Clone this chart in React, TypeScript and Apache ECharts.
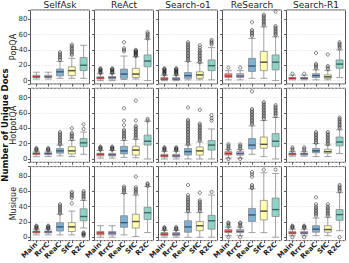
import React, { useEffect, useRef, useState } from "react";
import * as echarts from "echarts";

const categories = ["Main", "RrrC", "ReaC", "SfC", "R2C"];
const methods = ["SelfAsk", "ReAct", "Search-o1", "ReSearch", "Search-R1"];
const datasets = ["PopQA", "HotpotQA", "Musique"];
const boxColors = ["#fb8072", "#bebada", "#80b1d3", "#ffffb3", "#8dd3c7"];
const medianColors = ["#9e2f27", "#4d4870", "#1f4a72", "#3a3a2a", "#245e54"];
const yTicks = [0, 20, 40, 60, 80];

// [min, Q1, median, Q3, max] per category
const popqaSelfAskBox = [[2, 4, 5, 7, 11], [2, 4, 5, 7, 11], [3, 6, 11.5, 15, 25], [3, 6.5, 13, 18, 29], [3, 13, 20, 30, 46]];
const popqaSelfAskOut = [[], [], [27, 29, 31, 33, 35, 37], [33, 35, 37, 39, 41, 43, 45, 47], []];
const popqaReActBox = [[0, 2, 3.5, 5, 9], [0, 2, 4, 5.5, 9], [1.5, 3, 8.5, 15, 32], [2, 4, 8.5, 16, 31], [0, 18, 25.5, 33.5, 54]];
const popqaReActOut = [[10, 11, 12, 13, 14, 15, 16], [10, 11, 12, 13, 14, 15, 16], [38, 40, 42, 50], [32, 33, 34, 35, 36, 37, 38, 39, 40], [55, 57, 59, 61, 63]];
const popqaSearchO1Box = [[0, 1, 2, 4, 7], [0, 1, 2, 4, 7], [1, 3, 6.5, 10.5, 25], [1, 3, 7.5, 11.5, 23], [1, 13, 19.5, 27, 43]];
const popqaSearchO1Out = [[8, 9, 10, 11, 12, 13, 14, 15, 16], [8, 9, 10, 11, 12, 13, 14, 15, 16], [26, 28, 30, 32, 34, 36, 38, 40, 42, 44, 46, 48, 50], [24, 26, 28, 30, 32, 34, 36, 38, 40, 43, 46], [47, 49, 51, 53]];
const popqaReSearchBox = [[1, 4, 6, 9, 13], [1, 4, 6, 9, 13], [3, 12, 19, 29, 55], [3, 13, 24, 38, 70], [0, 14, 24, 33.5, 57]];
const popqaReSearchOut = [[17], [17], [58, 60, 62, 64, 66, 76], [72, 74, 76, 78, 80, 82, 84, 86], [59, 61, 63, 65, 67, 69, 71, 90]];
const popqaSearchR1Box = [[1, 2, 3, 4, 7], [1, 2, 3, 4, 7], [1, 4, 6.5, 9, 14], [1, 3, 5, 7.5, 13], [4, 16, 21.5, 27, 40]];
const popqaSearchR1Out = [[9], [9], [16, 18, 20, 22, 36], [15, 17, 19, 34], [42, 44, 46, 48, 50]];

const hotpotSelfAskBox = [[3, 5.5, 7, 8, 10], [3, 5.5, 7, 8, 10], [4, 7.5, 10.5, 13.5, 18], [3, 6.5, 10.5, 16, 24], [6, 16, 21, 26.5, 35]];
const hotpotSelfAskOut = [[11, 12, 13, 14], [11, 12, 13, 14], [19, 21, 23, 25, 27, 29, 31, 33, 35], [26, 28, 30, 32, 34, 40], [39, 45]];
const hotpotReActBox = [[1, 3.8, 6, 7.3, 11], [1, 3.8, 5.5, 7.3, 11], [2, 6.5, 10.5, 16.5, 24], [1.5, 5, 11.5, 16.5, 25.5], [0, 18, 23, 31, 49]];
const hotpotReActOut = [[12, 13, 14, 15, 16], [12, 13, 14, 15, 16], [26, 28, 30, 32, 34, 36, 38, 44, 50, 66], [27, 29, 31, 33, 35, 37, 39, 41, 43, 50, 76], [50, 52]];
const hotpotSearchO1Box = [[0, 2.5, 4, 6, 10], [0, 2.5, 4, 6, 10], [0, 5, 9.5, 13.5, 18], [0, 5, 10.5, 15.5, 22], [0, 11.5, 18, 24, 39]];
const hotpotSearchO1Out = [[11, 12, 13, 14, 15], [11, 12, 13, 14, 15], [19, 21, 23, 25, 27, 29, 31, 33, 35, 37, 39, 41, 43, 45, 47, 49, 51, 67], [24, 26, 28, 30, 32, 34, 36, 38, 40, 42, 44, 46, 64], [50, 53, 57]];
const hotpotReSearchBox = [[1, 5, 7, 9.5, 12], [1, 5, 7, 9.5, 12], [6, 13, 18, 26.5, 43], [3, 14, 19, 28.5, 50], [0, 16, 23, 33, 54]];
const hotpotReSearchOut = [[0, 13, 15, 17, 19], [0, 13, 15, 17, 19], [45, 47, 49, 51, 53, 55, 57, 59, 61, 63, 65, 88], [52, 54, 56, 58, 60, 62, 64, 66, 68, 70, 72, 74], [56, 58, 60, 62, 64, 66, 68, 70]];
const hotpotSearchR1Box = [[3.5, 5, 6.5, 7.5, 9.5], [3.5, 5, 6.5, 7.5, 9.5], [3, 8, 10.5, 13.5, 20], [3, 7.5, 9.5, 12.5, 18], [7, 17, 22, 28.5, 38]];
const hotpotSearchR1Out = [[11, 13, 15], [11, 13, 15], [21, 23, 25, 27, 29, 31, 33, 35], [19, 21, 23, 25, 27, 29, 31, 33, 35], [40, 42, 44, 46, 48, 50, 52, 54]];

const musiqueSelfAskBox = [[3, 5.5, 7, 8, 10.5], [3, 5.5, 7, 8, 10.5], [3, 8, 13.5, 19, 30], [3, 7.5, 13.5, 19, 34], [12, 21.5, 27, 37, 48]];
const musiqueSelfAskOut = [[11, 12, 13, 14, 15], [11, 12, 13, 14, 15], [31, 33, 35, 37, 39, 41, 43], [44, 51, 53, 55, 57, 59], [2, 3, 4, 5, 6, 50, 52, 54, 56, 58, 60]];
const musiqueReActBox = [[0, 3, 5.5, 7.5, 15], [0, 3, 5.5, 7.5, 15], [3, 13, 19, 28, 57], [1, 12, 20.5, 30, 55], [6, 23, 32, 39, 66]];
const musiqueReActOut = [[], [], [58, 60, 62, 64, 66], [57, 59, 61, 63, 65, 79], [67, 69, 70]];
const musiqueSearchO1Box = [[0, 2, 4, 6, 9], [0, 2, 4, 6, 9], [0, 6.5, 13.5, 21.5, 32], [0, 8.5, 15, 20.5, 32], [0, 10.5, 21.5, 28.5, 55]];
const musiqueSearchO1Out = [[10, 11, 12, 13], [10, 11, 12, 13], [34, 36, 38, 40, 42, 44, 46, 48, 50, 52, 55, 68], [34, 36, 38, 40, 42, 44, 46, 48, 58], [59]];
const musiqueReSearchBox = [[2, 6, 7.5, 10, 13], [2, 6, 7.5, 10, 13], [6, 20.5, 29, 37.5, 63], [6, 22.5, 34, 48, 84], [0, 27, 36, 51, 83]];
const musiqueReSearchOut = [[0, 14, 16, 18, 19], [0, 14, 16, 18, 19], [64, 66, 68, 79, 82, 85], [88], [88]];
const musiqueSearchR1Box = [[2, 4.3, 5.6, 7.3, 10.5], [2, 4.3, 5.6, 7.3, 10.5], [2, 6.5, 10.5, 15, 25], [2, 6.5, 10, 15, 26], [8.5, 22, 29.5, 36, 58]];
const musiqueSearchR1Out = [[0, 12, 13, 14, 15], [0, 12, 13, 14, 15], [28, 30, 32, 34, 36, 38, 40, 43, 52], [28, 30, 32, 34, 36, 38, 40, 43], [0, 60, 62, 64, 66, 68]];

const boxRows = [
  [popqaSelfAskBox, popqaReActBox, popqaSearchO1Box, popqaReSearchBox, popqaSearchR1Box],
  [hotpotSelfAskBox, hotpotReActBox, hotpotSearchO1Box, hotpotReSearchBox, hotpotSearchR1Box],
  [musiqueSelfAskBox, musiqueReActBox, musiqueSearchO1Box, musiqueReSearchBox, musiqueSearchR1Box],
];
const outRows = [
  [popqaSelfAskOut, popqaReActOut, popqaSearchO1Out, popqaReSearchOut, popqaSearchR1Out],
  [hotpotSelfAskOut, hotpotReActOut, hotpotSearchO1Out, hotpotReSearchOut, hotpotSearchR1Out],
  [musiqueSelfAskOut, musiqueReActOut, musiqueSearchO1Out, musiqueReSearchOut, musiqueSearchR1Out],
];

const FONT = "DejaVu Sans";

export default function App() {
  const ref = useRef<HTMLDivElement>(null);
  const [err, setErr] = useState("");
  useEffect(() => {
    if (!ref.current) return;
    const onErr = (e: any) => setErr(String(e && (e.message || e.reason) || e));
    window.addEventListener("error", onErr);
    const chart = echarts.init(ref.current, undefined, { renderer: "svg" });
    try {
      const grids: any[] = [];
      const xAxes: any[] = [];
      const yAxes: any[] = [];
      const series: any[] = [];
      const graphics: any[] = [];
      const colLeft = (c: number) => 30.5 + c * 64;
      const rowTop = (r: number) => 10 + r * 78.3;
      const W = 59;
      const H = 74;
      for (let r = 0; r < 3; r++) {
        for (let c = 0; c < 5; c++) {
          const k = r * 5 + c;
          grids.push({
            left: colLeft(c), top: rowTop(r), width: W, height: H,
            show: true, borderColor: "#555", borderWidth: 1,
          });
          xAxes.push({
            gridIndex: k, type: "category", data: categories,
            axisLine: { show: false, onZero: false },
            axisTick: { show: true, alignWithLabel: true, interval: 0, length: 2.5, lineStyle: { color: "#333", width: 0.8 } },
            axisLabel: { show: r === 2, interval: 0, rotate: 45, fontSize: 7, fontWeight: "bold", margin: 3, color: "#222", fontFamily: FONT },
          });
          yAxes.push({
            gridIndex: k, type: "value", min: -4.4, max: 92,
            axisLine: { show: false, onZero: false },
            axisTick: { show: true, length: 2.5, lineStyle: { color: "#333", width: 0.8 } },
            axisLabel: {
              show: c === 0, fontSize: 7, color: "#333", margin: 3, fontFamily: FONT,
              formatter: (v: number) => (yTicks.indexOf(v) >= 0 ? String(v) : ""),
            },
            splitLine: { show: true, lineStyle: { color: "#e2e2e2", type: "dashed", width: 0.6 } },
          });
          const boxes = boxRows[r][c];
          const outs = outRows[r][c];
          series.push({
            type: "boxplot", xAxisIndex: k, yAxisIndex: k, boxWidth: [7, 7],
            data: boxes.map((b, i) => ({
              value: b,
              itemStyle: { color: boxColors[i], borderColor: "#8a8a8a", borderWidth: 0.8 },
            })),
          });
          const outData: any[] = [];
          outs.forEach((arr, i) => arr.forEach((v) => outData.push([i, v])));
          series.push({
            type: "scatter", xAxisIndex: k, yAxisIndex: k,
            symbol: "circle", symbolSize: 3.2,
            itemStyle: { color: "rgba(255,255,255,0)", borderColor: "#1a1a1a", borderWidth: 0.7 },
            data: outData,
          });
          series.push({
            type: "scatter", xAxisIndex: k, yAxisIndex: k,
            symbol: "rect", symbolSize: [7, 1.4],
            data: boxes.map((b, i) => ({ value: [i, b[2]], itemStyle: { color: medianColors[i] } })),
          });
          if (r === 0) {
            graphics.push({
              type: "text", x: colLeft(c) + W / 2, y: 5,
              style: { text: methods[c], fontSize: 9, fill: "#222", fontFamily: FONT, textAlign: "center", textVerticalAlign: "middle" },
            });
          }
        }
        graphics.push({
          type: "text", x: 13, y: rowTop(r) + H / 2, rotation: Math.PI / 2,
          style: { text: datasets[r], fontSize: 8, fill: "#222", fontFamily: FONT, textAlign: "center", textVerticalAlign: "middle" },
        });
      }
      graphics.push({
        type: "text", x: 5, y: 125, rotation: Math.PI / 2,
        style: { text: "Number of Unique Docs", fontSize: 8.5, fontWeight: "bold", fill: "#111", fontFamily: FONT, textAlign: "center", textVerticalAlign: "middle" },
      });
      chart.setOption({
        animation: false,
        backgroundColor: "#fff",
        grid: grids,
        xAxis: xAxes,
        yAxis: yAxes,
        series,
        graphic: graphics,
      });
    } catch (e: any) {
      setErr(String(e && e.message ? e.message : e));
    }
    return () => {
      window.removeEventListener("error", onErr);
      chart.dispose();
    };
  }, []);
  return (
    <>
      <div ref={ref} style={{ position: "fixed", left: 0, top: 0, width: 349, height: 263 }} />
      {err ? (
        <div style={{ position: "fixed", left: 40, top: 120, width: 300, fontSize: 9, color: "#c00", background: "#fff", zIndex: 20 }}>{err}</div>
      ) : null}
    </>
  );
}
